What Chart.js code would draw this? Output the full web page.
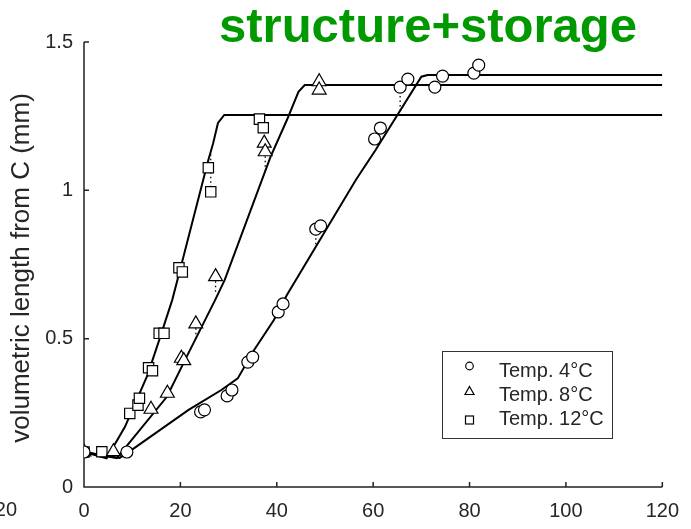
<!DOCTYPE html>
<html><head><meta charset="utf-8">
<script src="https://cdn.jsdelivr.net/npm/chart.js@4.4.1/dist/chart.umd.min.js"></script>
<style>html,body{margin:0;padding:0;background:#fff;overflow:hidden}#wrap{width:691px;height:529px}</style>
</head><body><div id="wrap"><canvas id="c" width="691" height="529"></canvas></div>
<script>
// ---- data ----
const xTicks = [0, 20, 40, 60, 80, 100, 120];
const yTicks = [0, 0.5, 1, 1.5];
const yTickLabels = ['0', '0.5', '1', '1.5'];
const seriesNames = ['Temp. 4°C', 'Temp. 8°C', 'Temp. 12°C'];
const titleText = 'structure+storage';
const yTitle = 'volumetric length from C (mm)';

const t4X = [0, 8.9, 24.2, 25.0, 29.7, 30.7, 34.0, 35.0, 40.3, 41.3, 48.1, 49.1, 60.3, 61.5, 65.6, 67.2, 72.8, 74.4, 80.9, 81.9];
const t4Y = [0.118, 0.118, 0.253, 0.260, 0.307, 0.327, 0.421, 0.438, 0.590, 0.617, 0.869, 0.880, 1.173, 1.210, 1.348, 1.375, 1.348, 1.385, 1.395, 1.422];

const t8X = [0, 6.1, 13.9, 17.3, 20.2, 20.7, 23.2, 27.3, 37.4, 37.6, 48.8, 48.8];
const t8Y = [0.118, 0.119, 0.262, 0.316, 0.434, 0.426, 0.550, 0.709, 1.159, 1.130, 1.366, 1.338];

const t12X = [0, 3.7, 9.5, 11.2, 11.5, 13.4, 14.2, 15.6, 16.6, 19.7, 20.4, 25.8, 26.3, 36.4, 37.2];
const t12Y = [0.118, 0.119, 0.248, 0.276, 0.299, 0.402, 0.392, 0.518, 0.518, 0.739, 0.725, 1.076, 0.995, 1.240, 1.211];

const fit4X = [0, 7.4, 9.1, 21.7, 28.5, 31.9, 35.3, 39.4, 42.1, 56.4, 60.5, 70.0, 71.3, 120];
const fit4Y = [0.118, 0.098, 0.116, 0.260, 0.327, 0.366, 0.462, 0.563, 0.647, 1.035, 1.136, 1.383, 1.389, 1.389];

const fit8X = [0, 6.8, 17.2, 21.7, 27.2, 29.2, 38.7, 42.1, 44.5, 45.8, 120];
const fit8Y = [0.118, 0.097, 0.304, 0.452, 0.630, 0.698, 1.113, 1.237, 1.332, 1.355, 1.355];

const fit12X = [0, 4.7, 8.5, 13.2, 15.6, 18.3, 20.3, 25.8, 26.8, 27.8, 29.1, 120];
const fit12Y = [0.118, 0.097, 0.203, 0.378, 0.495, 0.630, 0.755, 1.102, 1.159, 1.227, 1.254, 1.254];

// residual connectors (observed -> model), dotted
const resX   = [26.3, 37.6, 27.3, 23.2, 65.6, 48.1];
const resObs = [0.995, 1.130, 0.709, 0.550, 1.348, 0.869];
const resFit = [1.130, 1.068, 0.650, 0.500, 1.270, 0.810];

// ---- helpers ----
const zip = (xs, ys) => xs.map((x, i) => ({x: x, y: ys[i]}));
const resData = [];
resX.forEach((x, i) => { resData.push({x: x, y: resObs[i]}, {x: x, y: resFit[i]}, {x: x, y: null}); });

const FONT = '"Liberation Sans", Arial, Helvetica, sans-serif';
const TXT = '#262626';

const markerDS = (data, style, r) => ({
  type: 'scatter', data: data, pointStyle: style, pointRadius: r,
  pointBackgroundColor: '#fff', pointBorderColor: '#000', pointBorderWidth: 1.2,
  showLine: false, order: 1
});
const lineDS = (data) => ({
  type: 'scatter', data: data, showLine: true, pointRadius: 0, borderColor: '#000',
  borderWidth: 2, tension: 0, fill: false, order: 3
});

const decor = {
  id: 'decor',
  beforeDatasetsDraw(chart) {
    const ctx = chart.ctx, xs = chart.scales.x, ys = chart.scales.y;
    ctx.save();
    ctx.strokeStyle = '#222'; ctx.lineWidth = 1.5;
    const x0 = xs.getPixelForValue(0), y0 = ys.getPixelForValue(0);
    ctx.beginPath();
    ctx.moveTo(x0, ys.getPixelForValue(1.5)); ctx.lineTo(x0, y0);
    ctx.lineTo(xs.getPixelForValue(120), y0);
    xTicks.forEach(v => { if (v > 0) { const p = xs.getPixelForValue(v); ctx.moveTo(p, y0); ctx.lineTo(p, y0 - 5); } });
    yTicks.forEach(v => { if (v > 0) { const p = ys.getPixelForValue(v); ctx.moveTo(x0, p); ctx.lineTo(x0 + 5, p); } });
    ctx.stroke();
    ctx.restore();
  },
  afterDraw(chart) {
    const ctx = chart.ctx;
    ctx.save();
    // title
    ctx.fillStyle = '#009900';
    ctx.font = 'bold 49px ' + FONT;
    ctx.textAlign = 'center'; ctx.textBaseline = 'alphabetic';
    ctx.fillText(titleText, 428, 42);
    // y title
    ctx.fillStyle = TXT;
    ctx.font = '26px ' + FONT;
    ctx.translate(22, 268); ctx.rotate(-Math.PI / 2);
    ctx.textBaseline = 'middle';
    ctx.fillText(yTitle, 0, 0);
    ctx.setTransform(1, 0, 0, 1, 0, 0);
    // clipped neighbour label
    ctx.font = '20px ' + FONT; ctx.textAlign = 'right'; ctx.textBaseline = 'middle';
    ctx.fillText('20', 17, 510);
    // legend
    ctx.strokeStyle = '#333'; ctx.lineWidth = 1;
    ctx.strokeRect(442.5, 351.5, 170, 87);
    ctx.fillStyle = TXT; ctx.font = '20px ' + FONT; ctx.textAlign = 'left'; ctx.textBaseline = 'alphabetic';
    const base = [377, 401, 425];
    seriesNames.forEach((n, i) => ctx.fillText(n, 499, base[i]));
    ctx.strokeStyle = '#000'; ctx.lineWidth = 1.2;
    ctx.beginPath(); ctx.arc(469.5, 366, 3.8, 0, Math.PI * 2); ctx.stroke();
    ctx.beginPath(); ctx.moveTo(469.5, 386.5); ctx.lineTo(474, 394.5); ctx.lineTo(465, 394.5); ctx.closePath(); ctx.stroke();
    ctx.strokeRect(465.5, 416, 8, 8);
    ctx.restore();
  }
};

new Chart(document.getElementById('c'), {
  type: 'scatter',
  data: {
    datasets: [
      markerDS(zip(t4X, t4Y), 'circle', 6),
      markerDS(zip(t8X, t8Y), 'triangle', 8),
      markerDS(zip(t12X, t12Y), 'rect', 7.3),
      lineDS(zip(fit4X, fit4Y)),
      lineDS(zip(fit8X, fit8Y)),
      lineDS(zip(fit12X, fit12Y)),
      { type: 'scatter', data: resData, showLine: true, spanGaps: false, pointRadius: 0,
        borderColor: '#000', borderWidth: 1.3, borderDash: [1.5, 3], order: 2 }
    ]
  },
  options: {
    responsive: false, animation: false, events: [],
    layout: { padding: { left: 0, right: 20, top: 42, bottom: 0 } },
    plugins: { legend: { display: false }, tooltip: { enabled: false }, title: { display: false } },
    scales: {
      x: {
        type: 'linear', min: 0, max: 120,
        afterBuildTicks: s => { s.ticks = xTicks.map(v => ({ value: v })); },
        afterFit: s => { s.height = 42; },
        grid: { display: false, drawTicks: false }, border: { display: false },
        ticks: { color: TXT, font: { family: FONT, size: 20 }, padding: 12, maxRotation: 0, autoSkip: false }
      },
      y: {
        type: 'linear', min: 0, max: 1.5,
        afterBuildTicks: s => { s.ticks = yTicks.map(v => ({ value: v })); },
        afterFit: s => { s.width = 84; },
        grid: { display: false, drawTicks: false }, border: { display: false },
        ticks: { color: TXT, font: { family: FONT, size: 20 }, padding: 11, autoSkip: false,
                 callback: (v) => { const i = yTicks.indexOf(v); return i >= 0 ? yTickLabels[i] : ''; } }
      }
    }
  },
  plugins: [decor]
});
</script>
</body></html>
